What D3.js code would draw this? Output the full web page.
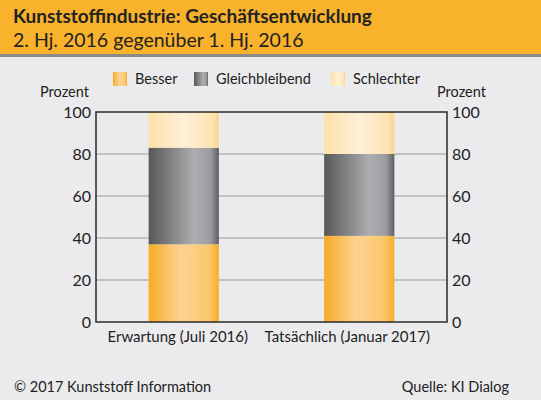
<!DOCTYPE html>
<html>
<head>
<meta charset="utf-8">
<script src="https://cdn.jsdelivr.net/npm/d3@7"></script>
<style>
  body { margin: 0; background: #ebebed; }
  svg { display: block; font-family: Lato, "Open Sans", sans-serif; }
</style>
</head>
<body>
<svg id="chart" width="541" height="400"></svg>
<script>
// data
const categories = ["Erwartung (Juli 2016)", "Tatsächlich (Januar 2017)"];
const seriesNames = ["Besser", "Gleichbleibend", "Schlechter"];
const besser = [37, 41];
const gleichbleibend = [46, 39];
const schlechter = [17, 20];
const yTicks = [0, 20, 40, 60, 80, 100];

const width = 541, height = 400;
const plot = { left: 96, right: 447, top: 112, bottom: 322 };
const font = "Lato, sans-serif";

const svg = d3.select("#chart");

// gradients
const defs = svg.append("defs");
function hGrad(id, stops) {
  const g = defs.append("linearGradient").attr("id", id)
    .attr("x1", "0%").attr("x2", "100%").attr("y1", "0%").attr("y2", "0%");
  stops.forEach(s => g.append("stop").attr("offset", s[0]).attr("stop-color", s[1]));
}
hGrad("g-besser", [["0%", "#f6ac25"], ["45%", "#fdd391"], ["85%", "#fcc86e"], ["100%", "#f6ae2c"]]);
hGrad("g-gleich", [["0%", "#58585b"], ["65%", "#aeaeb1"], ["88%", "#9c9ca0"], ["100%", "#5e5e62"]]);
hGrad("g-schlecht", [["0%", "#fde0a8"], ["50%", "#fff0d6"], ["90%", "#fde3b3"], ["100%", "#fbd48f"]]);
const fills = { "Besser": "url(#g-besser)", "Gleichbleibend": "url(#g-gleich)", "Schlechter": "url(#g-schlecht)" };

// header band
svg.append("rect").attr("x", 0).attr("y", 0).attr("width", width).attr("height", 54).attr("fill", "#f8b22c");
svg.append("rect").attr("x", 0).attr("y", 54).attr("width", width).attr("height", 3).attr("fill", "#8a8a8a");
svg.append("text").attr("x", 13).attr("y", 23)
  .attr("font-size", 19).attr("font-weight", "bold").attr("fill", "#222")
  .text("Kunststoffindustrie: Geschäftsentwicklung");
svg.append("text").attr("x", 13).attr("y", 47)
  .attr("font-size", 19.5).attr("fill", "#222")
  .text("2. Hj. 2016 gegenüber 1. Hj. 2016");

// scales
const x = d3.scaleBand().domain(categories).range([plot.left, plot.right]).paddingInner(0.6).paddingOuter(0.3);
const y = d3.scaleLinear().domain([0, 100]).range([plot.bottom, plot.top]);

// gridlines
svg.append("g").selectAll("line").data(yTicks.slice(1, -1)).join("line")
  .attr("x1", plot.left).attr("x2", plot.right)
  .attr("y1", d => y(d)).attr("y2", d => y(d))
  .attr("stroke", "#9a9a9c").attr("stroke-width", 1.2);

// stacked bars
const table = categories.map((c, i) => ({ cat: c, Besser: besser[i], Gleichbleibend: gleichbleibend[i], Schlechter: schlechter[i] }));
const stack = d3.stack().keys(seriesNames)(table);
svg.append("g").selectAll("g").data(stack).join("g")
  .attr("fill", d => fills[d.key])
  .selectAll("rect").data(d => d).join("rect")
  .attr("x", d => x(d.data.cat))
  .attr("width", x.bandwidth())
  .attr("y", d => y(d[1]))
  .attr("height", d => y(d[0]) - y(d[1]));

// frame
svg.append("rect").attr("x", plot.left).attr("y", plot.top)
  .attr("width", plot.right - plot.left).attr("height", plot.bottom - plot.top)
  .attr("fill", "none").attr("stroke", "#2a2a2a").attr("stroke-width", 1.5);

// axes
const yLeft = d3.axisLeft(y).tickValues(yTicks).tickSize(0).tickPadding(5);
const yRight = d3.axisRight(y).tickValues(yTicks).tickSize(0).tickPadding(5);
svg.append("g").attr("transform", `translate(${plot.left},0)`).call(yLeft)
  .call(g => g.select(".domain").remove())
  .selectAll("text").attr("font-size", 16).attr("fill", "#222").attr("font-family", font);
svg.append("g").attr("transform", `translate(${plot.right},0)`).call(yRight)
  .call(g => g.select(".domain").remove())
  .selectAll("text").attr("font-size", 16).attr("fill", "#222").attr("font-family", font);

const xAxis = d3.axisBottom(x).tickSize(0).tickPadding(9);
svg.append("g").attr("transform", `translate(0,${plot.bottom})`).call(xAxis)
  .call(g => g.select(".domain").remove())
  .selectAll("text").attr("font-size", 15).attr("fill", "#222").attr("font-family", font)
  .attr("dx", (d, i) => i === 0 ? -6 : -12);

// axis titles
svg.append("text").attr("x", 40).attr("y", 97).attr("font-size", 14.5).attr("fill", "#222").text("Prozent");
svg.append("text").attr("x", 437).attr("y", 97).attr("font-size", 14.5).attr("fill", "#222").text("Prozent");

// legend
const legendX = [113, 194, 331];
const leg = svg.append("g").selectAll("g").data(seriesNames).join("g")
  .attr("transform", (d, i) => `translate(${legendX[i]},72)`);
leg.append("rect").attr("width", 14).attr("height", 14).attr("fill", d => fills[d]);
leg.append("text").attr("x", 22).attr("y", 12).attr("font-size", 14.5).attr("fill", "#222").text(d => d);

// footer
svg.append("text").attr("x", 14).attr("y", 392).attr("font-size", 14.5).attr("fill", "#222")
  .text("© 2017 Kunststoff Information");
svg.append("text").attr("x", 509).attr("y", 392).attr("text-anchor", "end").attr("font-size", 14.5).attr("fill", "#222")
  .text("Quelle: KI Dialog");
</script>
</body>
</html>
